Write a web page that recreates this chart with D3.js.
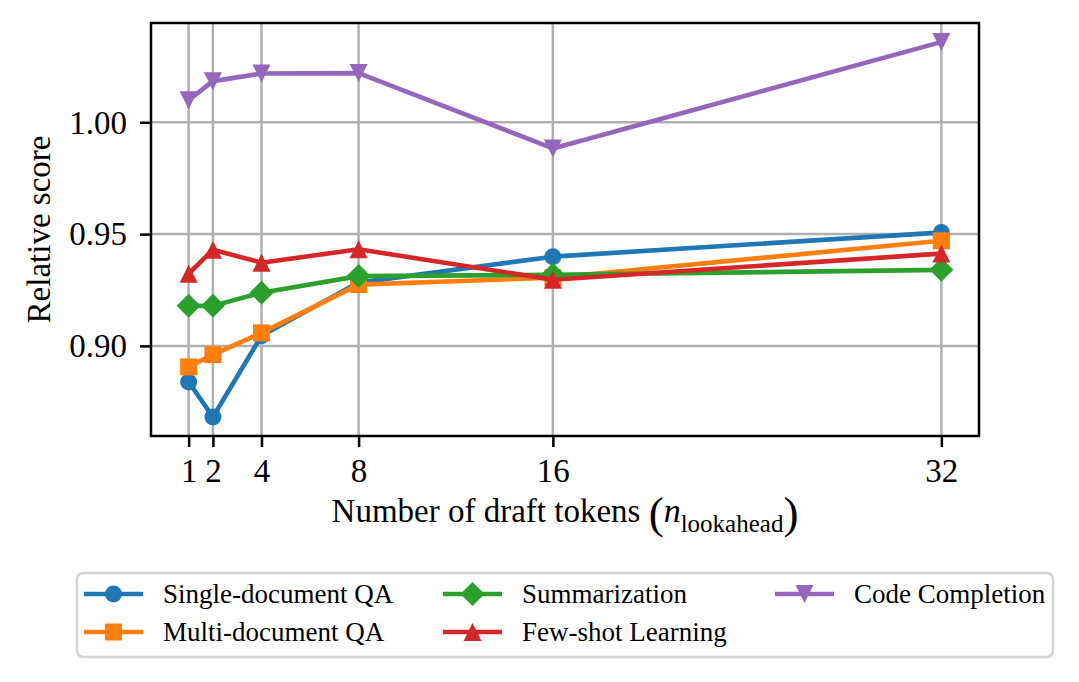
<!DOCTYPE html>
<html>
<head>
<meta charset="utf-8">
<script src="https://cdn.jsdelivr.net/npm/d3@7"></script>
<style>
  body { margin: 0; background: #fff; }
  svg { display: block; font-family: "Liberation Serif", "DejaVu Serif", serif; }
</style>
</head>
<body>
<svg id="chart" width="1079" height="682"></svg>
<script>
// Relative score vs number of draft tokens, one line per task group.
const draftTokens = [1, 2, 4, 8, 16, 32];
const xTicks = [1, 2, 4, 8, 16, 32];
const yTicks = [0.90, 0.95, 1.00];

const singleDocQA = [0.8839, 0.8682, 0.9045, 0.9283, 0.9399, 0.9507];
const multiDocQA = [0.8906, 0.8961, 0.9058, 0.9274, 0.9305, 0.9470];
const summarization = [0.9179, 0.9179, 0.9238, 0.9312, 0.9318, 0.9340];
const fewShot = [0.9323, 0.9430, 0.9372, 0.9432, 0.9296, 0.9413];
const codeCompletion = [1.0099, 1.0184, 1.0218, 1.0220, 0.9883, 1.0359];

const seriesNames = ['Single-document QA', 'Multi-document QA', 'Summarization', 'Few-shot Learning', 'Code Completion'];
const seriesValues = [singleDocQA, multiDocQA, summarization, fewShot, codeCompletion];
const seriesColors = ['#1f77b4', '#ff7f0e', '#2ca02c', '#d62728', '#9467bd'];
const seriesMarkers = ['circle', 'square', 'diamond', 'triangleUp', 'triangleDown'];

const svg = d3.select('#chart');
const plot = { left: 151, right: 979, top: 23, bottom: 436 };

// matplotlib-style 5% margins round the data
const x = d3.scaleLinear().domain([-0.55, 33.55]).range([plot.left, plot.right]);
const y = d3.scaleLinear().domain([0.8597, 1.0444]).range([plot.bottom, plot.top]);

// Marker path centred at 0,0
function markerPath(kind) {
  const r = 8.5;
  switch (kind) {
    case 'circle': return d3.symbol().type(d3.symbolCircle).size(Math.PI * r * r)();
    case 'square': return `M${-r},${-r}H${r}V${r}H${-r}Z`;
    case 'diamond': { const d = 12; return `M0,${-d}L${d},0L0,${d}L${-d},0Z`; }
    case 'triangleUp': { const t = 9; return `M0,${-t}L${t},${t}L${-t},${t}Z`; }
    case 'triangleDown': { const t = 9; return `M0,${t}L${t},${-t}L${-t},${-t}Z`; }
  }
}

// Grid
const grid = svg.append('g').attr('class', 'grid');
xTicks.forEach(t => {
  grid.append('line')
    .attr('x1', x(t)).attr('x2', x(t))
    .attr('y1', plot.top).attr('y2', plot.bottom)
    .attr('stroke', '#b0b0b0').attr('stroke-width', 2.5);
});
yTicks.forEach(t => {
  grid.append('line')
    .attr('x1', plot.left).attr('x2', plot.right)
    .attr('y1', y(t)).attr('y2', y(t))
    .attr('stroke', '#b0b0b0').attr('stroke-width', 2.5);
});

// Lines + markers
const clip = svg.append('defs').append('clipPath').attr('id', 'plot-clip');
clip.append('rect')
  .attr('x', plot.left).attr('y', plot.top)
  .attr('width', plot.right - plot.left).attr('height', plot.bottom - plot.top);

const lineGen = d3.line()
  .x((d, i) => x(draftTokens[i]))
  .y(d => y(d));

const content = svg.append('g').attr('clip-path', 'url(#plot-clip)');
seriesValues.forEach((vals, s) => {
  const g = content.append('g').attr('class', 'series');
  g.append('path')
    .attr('d', lineGen(vals))
    .attr('fill', 'none')
    .attr('stroke', seriesColors[s])
    .attr('stroke-width', 4.6)
    .attr('stroke-linejoin', 'round')
    .attr('stroke-linecap', 'square');
  g.selectAll('path.marker')
    .data(vals)
    .enter().append('path')
    .attr('class', 'marker')
    .attr('d', markerPath(seriesMarkers[s]))
    .attr('transform', (d, i) => `translate(${x(draftTokens[i])},${y(d)})`)
    .attr('fill', seriesColors[s]);
});

// Frame
svg.append('rect')
  .attr('x', plot.left).attr('y', plot.top)
  .attr('width', plot.right - plot.left).attr('height', plot.bottom - plot.top)
  .attr('fill', 'none').attr('stroke', '#000').attr('stroke-width', 2.5);

// Axes
const xAxis = d3.axisBottom(x).tickValues(xTicks).tickSize(11).tickPadding(12)
  .tickFormat(d3.format('d'));
const yAxis = d3.axisLeft(y).tickValues(yTicks).tickSize(11).tickPadding(13)
  .tickFormat(d3.format('.2f'));

const gx = svg.append('g').attr('transform', `translate(0,${plot.bottom})`).call(xAxis);
const gy = svg.append('g').attr('transform', `translate(${plot.left},0)`).call(yAxis);
[gx, gy].forEach(g => {
  g.select('.domain').remove();
  g.selectAll('.tick line').attr('stroke', '#000').attr('stroke-width', 2.5);
  g.selectAll('.tick text')
    .attr('fill', '#000')
    .style('font-family', '"Liberation Serif", serif')
    .style('font-size', '33px');
});
gx.selectAll('.tick text').attr('dy', null).attr('y', 46);
gy.selectAll('.tick text').attr('dy', '0.33em');

// Axis titles
svg.append('text')
  .attr('transform', `translate(50,${(plot.top + plot.bottom) / 2}) rotate(-90)`)
  .attr('text-anchor', 'middle')
  .style('font-size', '33px')
  .text('Relative score');

const xl = svg.append('text')
  .attr('x', (plot.left + plot.right) / 2)
  .attr('y', 522)
  .attr('text-anchor', 'middle')
  .style('font-size', '33px');
xl.append('tspan').text('Number of draft tokens ');
xl.append('tspan').style('font-size', '45px').attr('dy', 6).text('(');
xl.append('tspan').style('font-style', 'italic').style('font-size', '34px').attr('dy', -6).text('n');
xl.append('tspan').style('font-size', '25px').attr('dy', 10).text('lookahead');
xl.append('tspan').style('font-size', '45px').attr('dy', -4).text(')');

// Legend
const legend = svg.append('g').attr('class', 'legend');
legend.append('rect')
  .attr('x', 77).attr('y', 573)
  .attr('width', 976).attr('height', 84)
  .attr('rx', 6).attr('ry', 6)
  .attr('fill', '#fff').attr('fill-opacity', 0.8)
  .attr('stroke', '#d3d3d3').attr('stroke-width', 2.5);

const colX = [84, 443, 775];
const rowY = [594, 632];
seriesNames.forEach((name, s) => {
  const col = Math.floor(s / 2);
  const row = s % 2;
  const lx = colX[col], ly = rowY[row];
  const item = legend.append('g').attr('transform', `translate(${lx},${ly})`);
  item.append('line')
    .attr('x1', 0).attr('x2', 59)
    .attr('y1', 0).attr('y2', 0)
    .attr('stroke', seriesColors[s]).attr('stroke-width', 4.6);
  item.append('path')
    .attr('d', markerPath(seriesMarkers[s]))
    .attr('transform', 'translate(29.5,0)')
    .attr('fill', seriesColors[s]);
  item.append('text')
    .attr('x', 79)
    .attr('dy', '0.33em')
    .style('font-size', '27px')
    .text(name);
});
</script>
</body>
</html>
